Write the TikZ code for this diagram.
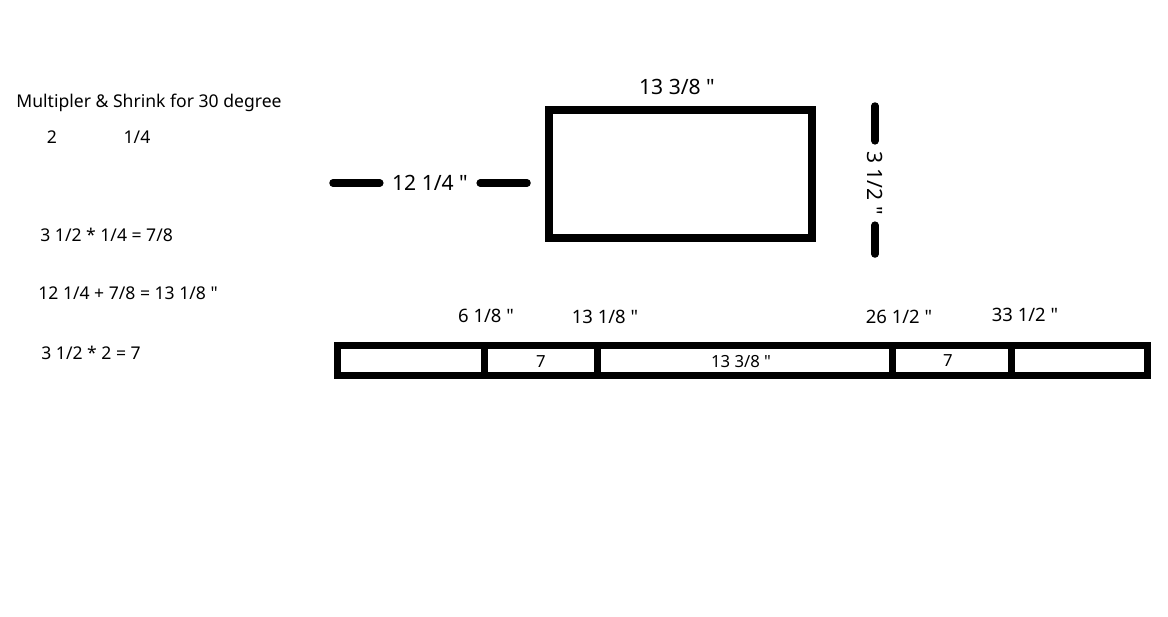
\documentclass[tikz,border=0pt]{standalone}
\usepackage{fontspec}
\newfontfamily\sketchfont{Noto Sans}
\usetikzlibrary{positioning}

\tikzset{
  frameline/.style={line width=0.16cm},
  stripline/.style={line width=0.14cm},
  dimline/.style={line width=0.15cm, line cap=round},
  dimlbl/.style={inner sep=0pt, font=\sketchfont\fontsize{12}{14}\selectfont},
  marklbl/.style={inner sep=0pt, font=\sketchfont\fontsize{10.5}{12}\selectfont},
  celllbl/.style={inner sep=0pt, font=\sketchfont\fontsize{9.5}{11}\selectfont},
  note/.style={inner sep=0pt, anchor=west, font=\sketchfont\fontsize{10}{12}\selectfont},
}

\begin{document}
\begin{tikzpicture}[x=0.02cm,y=-0.02cm]
  \useasboundingbox (0,0) rectangle (1168,616);

  % notes on the left
  \node[note] (title) at (16,103) {Multipler \& Shrink for 30 degree};
  \node[note, anchor=center] (mult) at (52,137) {2};
  \node[note, anchor=center] (shrink) at (137,137) {1/4};
  \node[note] (calcA) at (40,235) {3 1/2 * 1/4 = 7/8};
  \node[note] (calcB) at (38,293) {12 1/4 + 7/8 = 13 1/8 "};
  \node[note] (calcC) at (41,353) {3 1/2 * 2 = 7};

  % the box and its sizes
  \draw[frameline] (549,110) rectangle (812,238);
  \node[dimlbl] (toplbl) at (677,87) {13 3/8 "};

  \node[dimlbl] (wlab) at (430,183) {12 1/4 "};
  \coordinate (wl) at (333,183);
  \coordinate (wr) at (527,183);
  \draw[dimline, shorten >=0.24cm] (wl) -- (wlab);
  \draw[dimline, shorten >=0.24cm] (wr) -- (wlab);

  \node[dimlbl, rotate=-90] (hlab) at (875,183) {3 1/2 "};
  \coordinate (ht) at (875,106);
  \coordinate (hb) at (875,254);
  \draw[dimline, shorten >=0.2cm] (ht) -- (hlab);
  \draw[dimline, shorten >=0.2cm] (hb) -- (hlab);

  % the strip
  \draw[stripline] (337,345) rectangle (1147,375);
  \foreach \x in {484,597,892,1011}{
    \draw[stripline] (\x,345) -- (\x,375);
  }
  \node[celllbl] (cellA) at (541,362) {7};
  \node[celllbl] (cellB) at (741,362) {13 3/8 "};
  \node[celllbl] (cellC) at (948,361) {7};

  \node[marklbl] (markA) at (486,316) {6 1/8 "};
  \node[marklbl] (markB) at (605,317) {13 1/8 "};
  \node[marklbl] (markC) at (899,317) {26 1/2 "};
  \node[marklbl] (markD) at (1025,315) {33 1/2 "};
\end{tikzpicture}
\end{document}
